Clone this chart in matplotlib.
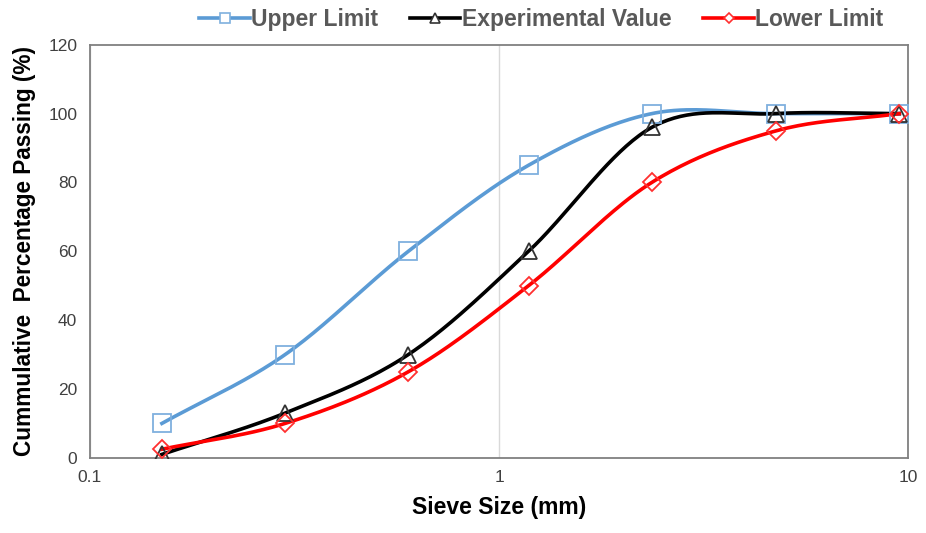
import numpy as np
import matplotlib.pyplot as plt

# sieve sizes (mm) and cumulative passing (%)
sieve_mm = [0.15, 0.3, 0.6, 1.18, 2.36, 4.75, 9.5]
upper_limit = [10, 30, 60, 85, 100, 100, 100]
experimental = [1, 13, 30, 60, 96, 100, 100]
lower_limit = [2.5, 10, 25, 50, 80, 95, 100]


def smooth_curve(x, y, n=40):
    """Catmull-Rom spline through the points, in log10(x) / y space."""
    lx = np.log10(np.asarray(x, float))
    yy = np.asarray(y, float)
    px = np.concatenate([[2 * lx[0] - lx[1]], lx, [2 * lx[-1] - lx[-2]]])
    py = np.concatenate([[2 * yy[0] - yy[1]], yy, [2 * yy[-1] - yy[-2]]])
    out_x, out_y = [], []
    t = np.linspace(0, 1, n)
    for i in range(1, len(px) - 2):
        for arr, out in ((px, out_x), (py, out_y)):
            p0, p1, p2, p3 = arr[i - 1], arr[i], arr[i + 1], arr[i + 2]
            seg = 0.5 * (2 * p1 + (-p0 + p2) * t
                         + (2 * p0 - 5 * p1 + 4 * p2 - p3) * t ** 2
                         + (-p0 + 3 * p1 - 3 * p2 + p3) * t ** 3)
            out.extend(seg)
    return 10 ** np.array(out_x), np.array(out_y)


plt.rcParams['font.family'] = ['Liberation Sans', 'DejaVu Sans']

fig = plt.figure(figsize=(9.26, 5.33), dpi=100)
ax = fig.add_axes([0.097, 0.141, 0.884, 0.775])

series = [
    ("Upper Limit", upper_limit, "#5B9BD5", "#7FB0DE", "s", 13),
    ("Experimental Value", experimental, "black", "#333333", "^", 12),
    ("Lower Limit", lower_limit, "#FF0000", "#FF3030", "D", 9),
]

handles = []
for name, vals, col, mcol, mk, ms in series:
    sx, sy = smooth_curve(sieve_mm, vals)
    ax.plot(sx, sy, color=col, lw=2.6, zorder=3)
    ax.plot(sieve_mm, vals, ls="none", marker=mk, ms=ms, mfc="none",
            mec=mcol, mew=1.3, zorder=4)
    h, = ax.plot([], [], color=col, lw=2.6, marker=mk, ms=ms * 0.6,
                 mfc="white", mec=mcol, mew=1.2, label=name)
    handles.append(h)

ax.set_xscale("log")
ax.set_xlim(0.1, 10)
ax.set_ylim(0, 120)
ax.set_yticks(range(0, 121, 20))
ax.set_xticks([0.1, 1, 10])
ax.set_xticklabels(["0.1", "1", "10"])
ax.minorticks_off()
ax.tick_params(length=0, labelsize=12.5, labelcolor="#404040", pad=9)
ax.grid(axis="x", which="major", color="#D9D9D9", lw=1)
ax.set_axisbelow(True)
for sp in ax.spines.values():
    sp.set_color("#808080")
    sp.set_linewidth(1.3)

ax.set_xlabel("Sieve Size (mm)", fontsize=16.5, fontweight="bold", labelpad=8)
ax.set_ylabel("Cummulative  Percentage Passing (%)", fontsize=16.3,
              fontweight="bold", labelpad=9)

leg = fig.legend(handles=handles, loc="upper right", ncol=3,
                 bbox_to_anchor=(0.976, 1.023), frameon=False,
                 handlelength=2.2, handletextpad=0.05, columnspacing=1.4,
                 prop={"weight": "bold", "size": 16.5})
for txt in leg.get_texts():
    txt.set_color("#595959")

fig.savefig("out.png", dpi=100)
